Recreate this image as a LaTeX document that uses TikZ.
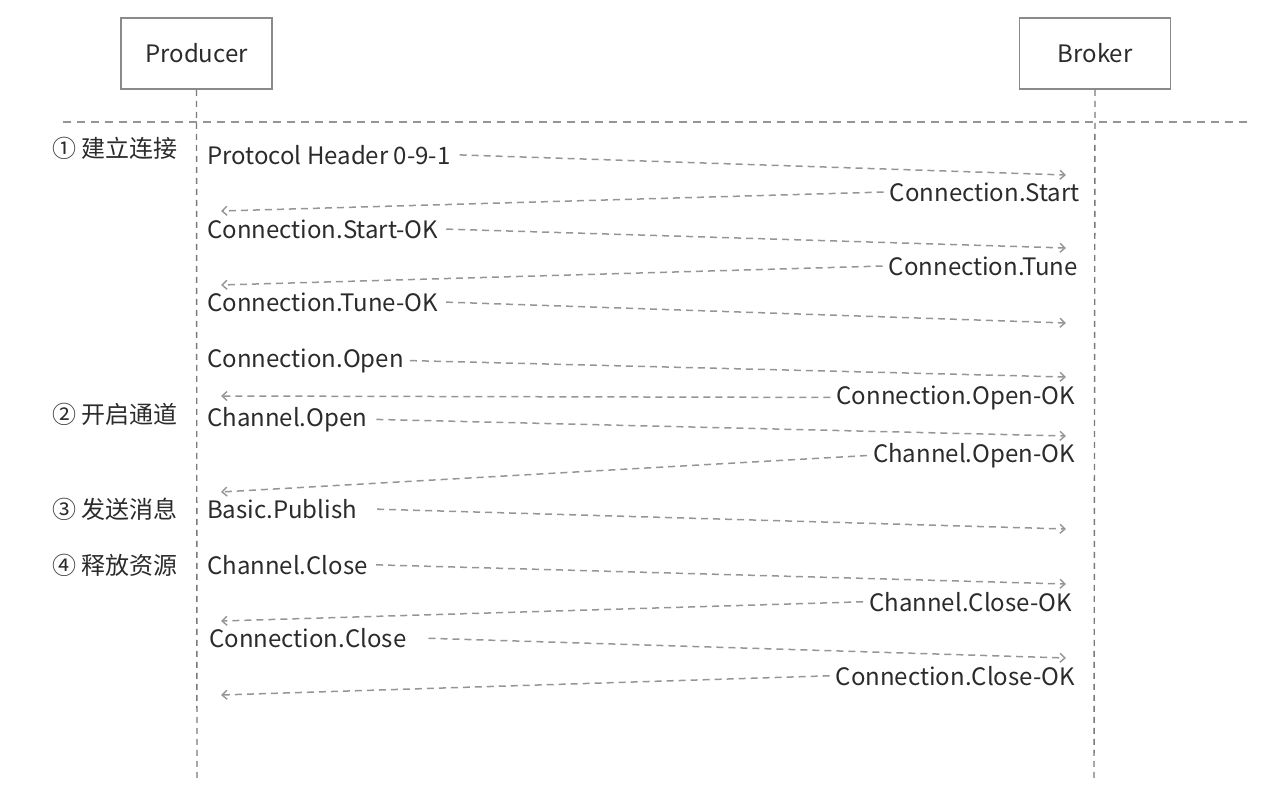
\documentclass[tikz,border=0pt]{standalone}
\usepackage{fontspec}
\setmainfont{Noto Sans CJK SC}
\usetikzlibrary{arrows.meta}
\definecolor{txt}{HTML}{2B2B2B}
\definecolor{boxline}{HTML}{8A8A8A}
\definecolor{lifeline}{HTML}{7A7A7A}
\definecolor{msgline}{HTML}{959595}
\begin{document}
\begin{tikzpicture}[x=1pt,y=-1pt,
  font=\fontsize{24}{28}\selectfont, text=txt,
  actor/.style={draw=boxline, line width=1.5pt, minimum width=151pt, minimum height=71pt, inner sep=0pt},
  life/.style={draw=lifeline, line width=1.4pt, dash pattern=on 6pt off 5pt},
  sep/.style={draw=msgline, line width=2pt, dash pattern=on 8pt off 6pt},
  msg/.style={draw=msgline, line width=1.5pt, dash pattern=on 7pt off 5pt,
    -{Straight Barb[length=5pt,width=9pt,line width=1.4pt]}},
  lbl/.style={inner sep=0pt, anchor=base west},
  rlbl/.style={inner sep=0pt, anchor=base east},
  steplbl/.style={inner sep=0pt, anchor=base west}]
\useasboundingbox (0,0) rectangle (1267,787);

% participants and lifelines
\node[actor] (prod) at (196.5,53.5) {Producer};
\node[actor] (brok) at (1095,53.5) {Broker};
\coordinate (prodEnd) at (197,780);
\coordinate (brokEnd) at (1094,780);
\draw[life] (prod.south) -- (prodEnd);
\draw[life] (brok.south) -- (brokEnd);

% separator
\coordinate (sepL) at (63,122);
\coordinate (sepR) at (1252,122);
\draw[sep] (sepL) -- (sepR);

% phase labels
\node[steplbl] (s1) at (52,157) {① 建立连接};
\node[steplbl] (s2) at (52,423) {② 开启通道};
\node[steplbl] (s3) at (52,518) {③ 发送消息};
\node[steplbl] (s4) at (52,574) {④ 释放资源};

% message labels
\node[lbl]  (m1)  at (207,164) {Protocol Header 0-9-1};
\node[rlbl] (m2)  at (1080,201) {Connection.Start};
\node[lbl]  (m3)  at (207,238) {Connection.Start-OK};
\node[rlbl] (m4)  at (1078,275) {Connection.Tune};
\node[lbl]  (m5)  at (207,311) {Connection.Tune-OK};
\node[lbl]  (m6)  at (207,367) {Connection.Open};
\node[rlbl] (m7)  at (1075,404) {Connection.Open-OK};
\node[lbl]  (m8)  at (207,426) {Channel.Open};
\node[rlbl] (m9)  at (1075,462) {Channel.Open-OK};
\node[lbl]  (m10) at (207,518) {Basic.Publish};
\node[lbl]  (m11) at (207,574) {Channel.Close};
\node[rlbl] (m12) at (1072,611) {Channel.Close-OK};
\node[lbl]  (m13) at (209,647) {Connection.Close};
\node[rlbl] (m14) at (1075,685) {Connection.Close-OK};

% arrow targets on the lifelines
\coordinate (e1)  at (1066,175);
\coordinate (e2)  at (221,211);
\coordinate (e3)  at (1066,248);
\coordinate (e4)  at (221,285);
\coordinate (e5)  at (1066,323);
\coordinate (e6)  at (1066,377);
\coordinate (e7)  at (221,396);
\coordinate (e8)  at (1066,436);
\coordinate (e9)  at (221,492);
\coordinate (e10) at (1066,529);
\coordinate (e11) at (1066,584);
\coordinate (e12) at (221,621);
\coordinate (e13) at (1066,658);
\coordinate (e14) at (221,695);

% messages
\draw[msg, shorten <=9pt]  (m1.east)  -- (e1);
\draw[msg, shorten <=6pt]  (m2.west)  -- (e2);
\draw[msg, shorten <=8pt]  (m3.east)  -- (e3);
\draw[msg, shorten <=6pt]  (m4.west)  -- (e4);
\draw[msg, shorten <=8pt]  (m5.east)  -- (e5);
\draw[msg, shorten <=6pt]  (m6.east)  -- (e6);
\draw[msg, shorten <=6pt]  (m7.west)  -- (e7);
\draw[msg, shorten <=9pt]  (m8.east)  -- (e8);
\draw[msg, shorten <=6pt]  (m9.west)  -- (e9);
\draw[msg, shorten <=20pt] (m10.east) -- (e10);
\draw[msg, shorten <=8pt]  (m11.east) -- (e11);
\draw[msg, shorten <=6pt]  (m12.west) -- (e12);
\draw[msg, shorten <=22pt] (m13.east) -- (e13);
\draw[msg, shorten <=6pt]  (m14.west) -- (e14);
\end{tikzpicture}
\end{document}
